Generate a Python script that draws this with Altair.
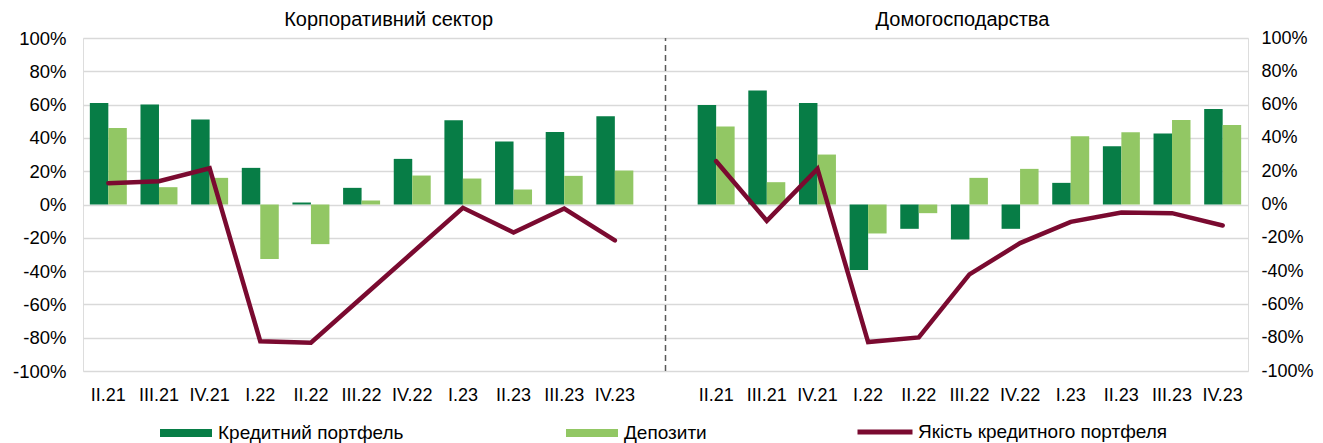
import altair as alt
import pandas as pd

quarters = ["II.21", "III.21", "IV.21", "I.22", "II.22", "III.22", "IV.22", "I.23", "II.23", "III.23", "IV.23"]
series_names = ["Кредитний портфель", "Депозити", "Якість кредитного портфеля"]
panel_titles = ["Корпоративний сектор", "Домогосподарства"]

corp_loans = [61, 60, 51, 22, 1.2, 10, 27.4, 50.6, 37.8, 43.6, 53]
corp_deposits = [46, 10.4, 16, -32.8, -23.8, 2.4, 17.4, 15.6, 9, 17.2, 20.4]
corp_quality = [12.8, 14, 21.8, -82.2, -83, -56, -29, -2, -16.8, -2.4, -21.6]

hh_loans = [59.8, 68.4, 61, -39.4, -14.6, -21, -14.6, 13, 35, 42.6, 57.4]
hh_deposits = [46.8, 13.4, 30, -17.4, -5.2, 16, 21.4, 41, 43.4, 50.8, 47.8]
hh_quality = [26, -9.8, 21.4, -82.6, -79.8, -42, -23.2, -10.4, -4.8, -5.2, -12.6]

y_ticks = [-100, -80, -60, -40, -20, 0, 20, 40, 60, 80, 100]

DARK = "#077D46"
LIGHT = "#92C764"
MAROON = "#7A0A30"
FONT = "Liberation Sans"

keys = ["A:" + q for q in quarters] + ["gap"] + ["B:" + q for q in quarters]

bar_rows, line_rows = [], []
for prefix, loans, deps, qual in [("A:", corp_loans, corp_deposits, corp_quality),
                                  ("B:", hh_loans, hh_deposits, hh_quality)]:
    for q, l, d, v in zip(quarters, loans, deps, qual):
        bar_rows.append({"key": prefix + q, "series": series_names[0], "value": l})
        bar_rows.append({"key": prefix + q, "series": series_names[1], "value": d})
        line_rows.append({"key": prefix + q, "panel": prefix, "series": series_names[2], "value": v})
bars_df = pd.DataFrame(bar_rows)
line_df = pd.DataFrame(line_rows)

def yscale():
    return alt.Scale(domain=[-100, 100], nice=False, zero=False)

x_enc = alt.X(
    "key:N",
    scale=alt.Scale(domain=keys, paddingInner=0.27, paddingOuter=0.135),
    axis=alt.Axis(
        title=None, labelAngle=0, ticks=False, tickSize=0, domain=False, grid=False,
        labelExpr="datum.value == 'gap' ? '' : split(datum.value, ':')[1]",
        labelFontSize=18, labelPadding=15, labelColor="#000000", labelFont=FONT,
    ),
)

bars = alt.Chart(bars_df).mark_bar().encode(
    x=x_enc,
    xOffset=alt.XOffset("series:N", scale=alt.Scale(domain=series_names[:2], paddingInner=0, paddingOuter=0)),
    y=alt.Y("value:Q", scale=yscale(), axis=alt.Axis(
        title=None, values=y_ticks, labelExpr="datum.value + '%'", orient="left",
        ticks=False, tickSize=0, domain=False, grid=True, gridColor="#D9D9D9", gridWidth=1.3,
        labelFontSize=18.5, labelPadding=17, labelColor="#000000", labelFont=FONT,
    )),
    color=alt.Color("series:N", scale=alt.Scale(domain=series_names[:2], range=[DARK, LIGHT]),
                    legend=alt.Legend(
                        title=None, orient="none", legendX=77, legendY=369, direction="horizontal",
                        symbolType="M-1,-0.15H1V0.15H-1Z", symbolSize=2704, symbolStrokeWidth=0,
                        labelFontSize=19, labelFont=FONT, labelColor="#000000", labelOffset=6,
                        columnPadding=162, padding=0, labelLimit=400,
                    )),
)

lines = alt.Chart(line_df).mark_line(strokeWidth=4.5, strokeJoin="miter", strokeCap="round").encode(
    x=x_enc,
    y=alt.Y("value:Q", scale=yscale(), axis=alt.Axis(
        title=None, values=y_ticks, labelExpr="datum.value + '%'", orient="right",
        ticks=False, tickSize=0, domain=False, grid=False,
        labelFontSize=18, labelPadding=13, labelColor="#000000", labelFont=FONT,
    )),
    detail="panel:N",
    stroke=alt.Stroke("series:N", scale=alt.Scale(domain=[series_names[2]], range=[MAROON]),
                      legend=alt.Legend(
                          title=None, orient="none", legendX=772, legendY=364, direction="horizontal",
                          symbolType="stroke", symbolSize=3025, symbolStrokeWidth=5,
                          labelFontSize=19, labelFont=FONT, labelColor="#000000", labelOffset=3,
                          padding=0, labelLimit=400,
                      )),
)

sep = alt.Chart(pd.DataFrame({"key": ["gap"]})).mark_rule(
    color="#595959", strokeWidth=1.5, strokeDash=[6, 4]
).encode(
    x=alt.X("key:N"),
    y=alt.datum(-100, scale=yscale(), axis=None),
    y2=alt.datum(100),
)

title_left = alt.Chart(pd.DataFrame({"key": ["A:III.22"], "t": [panel_titles[0]]})).mark_text(
    fontSize=20, font=FONT, color="#000000", dx=27, dy=-18, baseline="middle"
).encode(x=alt.X("key:N"), y=alt.datum(100, scale=yscale(), axis=None), text="t:N")

title_right = alt.Chart(pd.DataFrame({"key": ["B:III.22"], "t": [panel_titles[1]]})).mark_text(
    fontSize=20, font=FONT, color="#000000", dx=-7, dy=-18, baseline="middle"
).encode(x=alt.X("key:N"), y=alt.datum(100, scale=yscale(), axis=None), text="t:N")

chart = alt.layer(bars, lines, sep, title_left, title_right).resolve_scale(
    y="independent", color="independent", stroke="independent"
).properties(
    width=1165, height=333,
    autosize=alt.AutoSizeParams(type="none"),
    padding={"left": 75, "top": 30, "right": 67, "bottom": 73},
).configure_view(
    stroke="#6E6E6E", strokeWidth=2
).configure(font=FONT, background="white")

chart.save("out.html", embed_options={"renderer": "svg", "actions": False})
